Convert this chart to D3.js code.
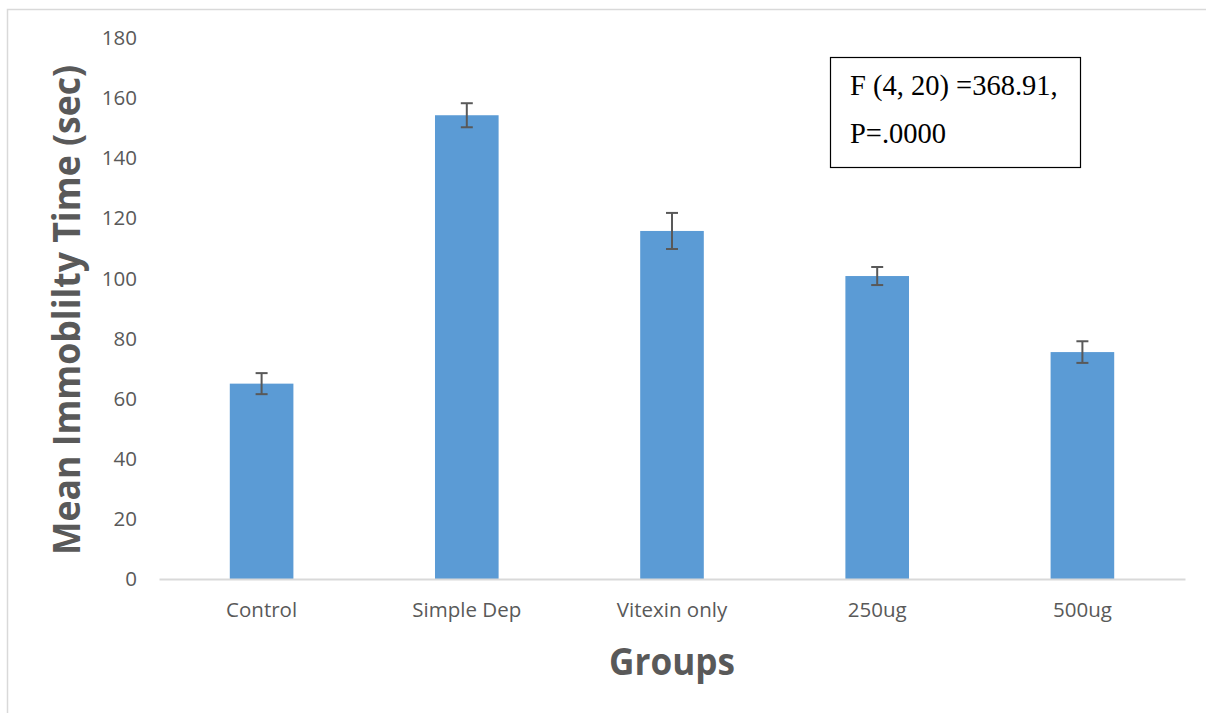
<!DOCTYPE html>
<html><head><meta charset="utf-8">
<script src="https://cdn.jsdelivr.net/npm/d3@7"></script>
<style>
html,body{margin:0;padding:0;background:#fff;}
svg{display:block;}
</style></head>
<body>
<svg id="chart" width="1206" height="713"></svg>
<script>
const categories = ["Control", "Simple Dep", "Vitexin only", "250ug", "500ug"];
const meanValues = [65, 154.3, 115.8, 100.8, 75.5];
const errorValues = [3.5, 4.0, 6.0, 3.0, 3.6];
const yTicks = [0, 20, 40, 60, 80, 100, 120, 140, 160, 180];
const yTitle = "Mean Immoblilty Time (sec)";
const xTitle = "Groups";
const statLines = ["F (4, 20) =368.91,", "P=.0000"];

(function () {
const svg = d3.select("#chart");
const plotLeft = 159, plotRight = 1185, plotTop = 38, plotBottom = 579;

// outer chart border
svg.append("rect").attr("x", 7.5).attr("y", 9.5).attr("width", 1250).attr("height", 800)
  .attr("fill", "#fff").attr("stroke", "#d9d9d9").attr("stroke-width", 1.5);

const x = d3.scaleBand().domain(categories).range([plotLeft, plotRight]).paddingInner(0.69).paddingOuter(0.345);
const y = d3.scaleLinear().domain([0, 180]).range([plotBottom, plotTop]);

// y tick labels
const yAxis = d3.axisLeft(y).tickValues(yTicks).tickSize(0).tickPadding(0);
const gy = svg.append("g").attr("transform", `translate(137,0)`).call(yAxis);
gy.select(".domain").remove();
gy.selectAll("text").attr("fill", "#595959").style("font-family", "'Open Sans', sans-serif").style("font-size", "20.5px");

// bars
svg.selectAll("rect.bar").data(categories).enter().append("rect").attr("class", "bar")
  .attr("x", d => x(d)).attr("width", x.bandwidth())
  .attr("y", (d, i) => y(meanValues[i])).attr("height", (d, i) => y(0) - y(meanValues[i]))
  .attr("fill", "#5b9bd5");

// x axis
const xAxis = d3.axisBottom(x).tickSize(0).tickPadding(0);
const gx = svg.append("g").attr("transform", `translate(0,${plotBottom})`).call(xAxis);
gx.select(".domain").attr("stroke", "#d9d9d9").attr("stroke-width", 2);
gx.selectAll("text").attr("fill", "#595959").attr("y", 38).attr("dy", 0)
  .style("font-family", "'Open Sans', sans-serif").style("font-size", "20.5px");

// error bars
const eb = svg.append("g").attr("stroke", "#595959").attr("stroke-width", 2);
categories.forEach((c, i) => {
  const cx = x(c) + x.bandwidth() / 2;
  const hi = y(meanValues[i] + errorValues[i]), lo = y(meanValues[i] - errorValues[i]);
  eb.append("line").attr("x1", cx).attr("x2", cx).attr("y1", hi).attr("y2", lo);
  eb.append("line").attr("x1", cx - 6).attr("x2", cx + 6).attr("y1", hi).attr("y2", hi);
  eb.append("line").attr("x1", cx - 6).attr("x2", cx + 6).attr("y1", lo).attr("y2", lo);
});

// axis titles
svg.append("text").attr("transform", "translate(80,310) rotate(-90)")
  .attr("text-anchor", "middle")
  .attr("fill", "#595959").attr("font-weight", "bold")
  .style("font-family", "'Open Sans', sans-serif").style("font-size", "38px")
  .attr("textLength", 490).attr("lengthAdjust", "spacingAndGlyphs")
  .text(yTitle);
svg.append("text").attr("x", 672).attr("y", 675)
  .attr("text-anchor", "middle")
  .attr("fill", "#595959").attr("font-weight", "bold")
  .style("font-family", "'Open Sans', sans-serif").style("font-size", "38px")
  .attr("textLength", 126).attr("lengthAdjust", "spacingAndGlyphs")
  .text(xTitle);

// stats box
svg.append("rect").attr("x", 830.5).attr("y", 57.5).attr("width", 250).attr("height", 110)
  .attr("fill", "#fff").attr("stroke", "#000").attr("stroke-width", 1.2);
svg.selectAll("text.stat").data(statLines).enter().append("text").attr("class", "stat")
  .attr("x", 850).attr("y", (d, i) => 95 + i * 48)
  .attr("fill", "#000").style("font-family", "'Liberation Serif', 'Times New Roman', serif").style("font-size", "28.5px")
  .text(d => d);
})();
</script>
</body></html>
